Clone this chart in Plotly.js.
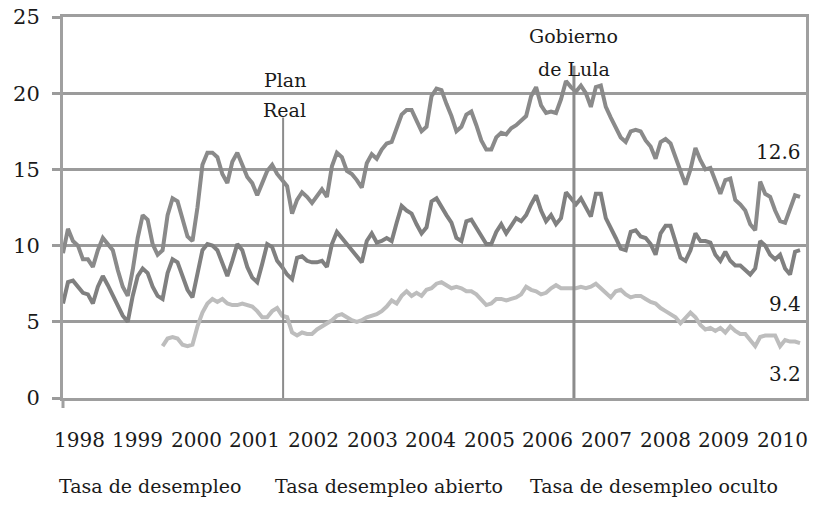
<!DOCTYPE html>
<html>
<head>
<meta charset="utf-8">
<script src="https://cdn.plot.ly/plotly-3.0.1.min.js"></script>
<style>html,body{margin:0;padding:0;background:#fff;}#chart{width:820px;height:506px;}</style>
</head>
<body>
<div id="chart"></div>
<script>
// Monthly series, January 1998 (index 0) to May 2010 (index 148)
var seriesNames = ["Tasa de desempleo", "Tasa desempleo abierto", "Tasa de desempleo oculto"];
var years = ["1998","1999","2000","2001","2002","2003","2004","2005","2006","2007","2008","2009","2010"];

var tasaDesempleo = [
  9.5, 11.1, 10.3, 10.0, 9.1, 9.1, 8.6, 9.7, 10.5, 10.1,
  9.7, 8.4, 7.3, 6.7, 8.4, 10.5, 12.0, 11.7, 10.1, 9.4,
  9.7, 12.0, 13.1, 12.9, 11.8, 10.6, 10.3, 12.5, 15.3, 16.1,
  16.1, 15.8, 14.7, 14.1, 15.5, 16.1, 15.3, 14.5, 14.1, 13.3,
  14.1, 14.9, 15.3, 14.7, 14.3, 13.9, 12.1, 13.0, 13.5, 13.2,
  12.8, 13.3, 13.7, 13.2, 15.2, 16.1, 15.8, 14.9, 14.7, 14.3,
  13.8, 15.4, 16.0, 15.7, 16.3, 16.7, 16.8, 17.7, 18.6, 18.9,
  18.9, 18.2, 17.5, 17.8, 19.8, 20.3, 20.2, 19.3, 18.5, 17.5,
  17.8, 18.6, 18.8, 17.9, 16.9, 16.3, 16.3, 17.1, 17.4, 17.3,
  17.7, 17.9, 18.2, 18.5, 19.8, 20.4, 19.2, 18.7, 18.8, 18.7,
  19.6, 20.8, 20.4, 20.1, 20.5, 20.0, 19.1, 20.4, 20.5, 19.1,
  18.4, 17.8, 17.1, 16.8, 17.5, 17.6, 17.5, 16.9, 16.5, 15.7,
  16.8, 17.0, 16.7, 15.8, 14.8, 14.0, 15.0, 16.4, 15.6, 15.0,
  15.1, 14.2, 13.4, 14.3, 14.4, 13.0, 12.7, 12.3, 11.4, 11.0,
  14.2, 13.4, 13.2, 12.3, 11.6, 11.5, 12.5, 13.3, 13.2
];

var tasaAbierto = [
  6.2, 7.6, 7.7, 7.3, 6.9, 6.8, 6.2, 7.3, 8.0, 7.4,
  6.7, 6.0, 5.4, 5.0, 6.7, 8.0, 8.5, 8.2, 7.3, 6.7,
  6.5, 8.2, 9.1, 8.9, 8.0, 7.1, 6.6, 8.2, 9.7, 10.1,
  10.0, 9.7, 8.8, 8.0, 9.0, 10.1, 9.7, 8.6, 7.9, 7.6,
  8.8, 10.1, 9.9, 9.0, 8.6, 8.1, 7.8, 9.2, 9.3, 9.0,
  8.9, 8.9, 9.0, 8.6, 10.1, 10.9, 10.5, 10.1, 9.7, 9.3,
  8.9, 10.3, 10.8, 10.2, 10.3, 10.5, 10.3, 11.5, 12.6, 12.3,
  12.1, 11.4, 10.8, 11.2, 12.9, 13.1, 12.5, 12.0, 11.5, 10.5,
  10.3, 11.6, 11.7, 11.2, 10.6, 10.1, 10.1, 10.9, 11.4, 10.8,
  11.3, 11.8, 11.6, 12.0, 12.7, 13.3, 12.3, 11.6, 12.0, 11.4,
  11.8, 13.5, 13.1, 12.7, 13.1, 12.5, 11.9, 13.4, 13.4, 11.8,
  11.2, 10.5, 9.8, 9.7, 10.9, 11.0, 10.6, 10.5, 10.1, 9.4,
  10.8, 11.3, 11.3, 10.3, 9.2, 9.0, 9.7, 10.8, 10.3, 10.3,
  10.2, 9.4, 9.0, 9.6, 9.0, 8.7, 8.7, 8.4, 8.1, 8.5,
  10.3, 10.0, 9.4, 9.1, 9.4, 8.5, 8.1, 9.6, 9.7
];

var tasaOculto = [
  null, null, null, null, null, null, null, null, null, null,
  null, null, null, null, null, null, null, null, null, null,
  3.4, 3.9, 4.0, 3.9, 3.5, 3.4, 3.5, 4.7, 5.6, 6.2,
  6.5, 6.3, 6.5, 6.2, 6.1, 6.1, 6.2, 6.1, 6.0, 5.7,
  5.3, 5.3, 5.7, 5.9, 5.4, 5.3, 4.3, 4.1, 4.3, 4.2,
  4.2, 4.5, 4.7, 4.9, 5.1, 5.4, 5.5, 5.3, 5.1, 5.0,
  5.1, 5.3, 5.4, 5.5, 5.7, 6.0, 6.4, 6.2, 6.7, 7.0,
  6.7, 6.9, 6.7, 7.1, 7.2, 7.5, 7.6, 7.4, 7.2, 7.3,
  7.2, 7.0, 7.0, 6.8, 6.4, 6.1, 6.2, 6.5, 6.5, 6.4,
  6.5, 6.6, 6.8, 7.3, 7.1, 7.0, 6.8, 6.9, 7.2, 7.4,
  7.2, 7.2, 7.2, 7.2, 7.3, 7.2, 7.3, 7.5, 7.2, 6.9,
  6.6, 7.0, 7.1, 6.8, 6.6, 6.7, 6.7, 6.5, 6.3, 6.2,
  5.9, 5.7, 5.5, 5.3, 4.9, 5.3, 5.6, 5.3, 4.8, 4.5,
  4.6, 4.4, 4.6, 4.3, 4.7, 4.4, 4.2, 4.2, 3.8, 3.4,
  4.0, 4.1, 4.1, 4.1, 3.4, 3.8, 3.7, 3.7, 3.6
];

// event markers (month index) and end-value labels
var eventPlanReal = 44.2;
var eventLula = 102.6;
var endLabels = ["12.6", "9.4", "3.2"];

var FONT = "DejaVu Serif";
var TXT = "#1a1a1a";

var traces = [
  {y: tasaDesempleo, name: seriesNames[0], type: "scatter", mode: "lines",
   line: {color: "#8a8a8a", width: 4}},
  {y: tasaAbierto, name: seriesNames[1], type: "scatter", mode: "lines",
   line: {color: "#808080", width: 4}},
  {y: tasaOculto, name: seriesNames[2], type: "scatter", mode: "lines",
   line: {color: "#bdbdbd", width: 4}}
];

var W = 820, H = 506, L = 63, R = 14, T = 17, B = 108;
var PW = W - L - R, PH = H - T - B;
function px2paperX(px) { return (px - L) / PW; }
function py2paperY(py) { return (H - B - py) / PH; }

var annotations = [];
years.forEach(function (yr, i) {
  annotations.push({text: yr, xref: "paper", yref: "paper",
    x: px2paperX(79 + i * 58.6), y: py2paperY(440),
    xanchor: "center", yanchor: "middle", showarrow: false,
    font: {family: FONT, size: 20, color: TXT}});
});
var legendCenters = [150, 389, 654];
seriesNames.forEach(function (nm, i) {
  annotations.push({text: nm, xref: "paper", yref: "paper",
    x: px2paperX(legendCenters[i]), y: py2paperY(486),
    xanchor: "center", yanchor: "middle", showarrow: false,
    font: {family: FONT, size: 19, color: TXT}});
});
function note(t, x, py) {
  annotations.push({text: t, xref: "x", yref: "paper", x: x, y: py2paperY(py),
    xanchor: "center", yanchor: "middle", showarrow: false,
    font: {family: FONT, size: 19, color: TXT}});
}
note("Plan", eventPlanReal + 0.3, 80);
note("Real", eventPlanReal + 0.3, 110);
note("Gobierno", eventLula, 36);
note("de Lula", eventLula, 69);
var endY = [152, 304, 374];
endLabels.forEach(function (t, i) {
  annotations.push({text: t, xref: "paper", yref: "paper",
    x: px2paperX(803), y: py2paperY(endY[i]),
    xanchor: "right", yanchor: "middle", showarrow: false,
    font: {family: FONT, size: 20, color: TXT}});
});

var shapes = [
  {type: "line", xref: "x", yref: "y", x0: eventPlanReal, x1: eventPlanReal, y0: 0, y1: 18.4,
   line: {color: "#8c8c8c", width: 2}},
  {type: "line", xref: "x", yref: "y", x0: eventLula, x1: eventLula, y0: 0, y1: 21.8,
   line: {color: "#8c8c8c", width: 3}},
  {type: "line", xref: "paper", yref: "paper", x0: 0, x1: 0, y0: 0, y1: py2paperY(408),
   line: {color: "#a0a0a0", width: 3}}
];

var layout = {
  width: W, height: H,
  margin: {l: L, r: R, t: T, b: B, pad: 0},
  paper_bgcolor: "#ffffff", plot_bgcolor: "#ffffff",
  showlegend: false,
  xaxis: {range: [0, 149.2], showgrid: false, zeroline: false, showticklabels: false,
    ticks: "", showline: true, linecolor: "#9e9e9e", linewidth: 3, mirror: true},
  yaxis: {range: [0, 25], tickvals: [0, 5, 10, 15, 20, 25], ticktext: ["0","5","10","15","20","25"],
    showgrid: true, gridcolor: "#9b9b9b", gridwidth: 3, zeroline: false,
    showline: true, linecolor: "#a0a0a0", linewidth: 3, mirror: true,
    ticks: "outside", ticklen: 8, tickwidth: 3, tickcolor: "#9b9b9b",
    ticklabelstandoff: 8,
    tickfont: {family: FONT, size: 21, color: TXT}},
  annotations: annotations,
  shapes: shapes
};

Plotly.newPlot("chart", traces, layout, {staticPlot: true, displayModeBar: false});
</script>
</body>
</html>
